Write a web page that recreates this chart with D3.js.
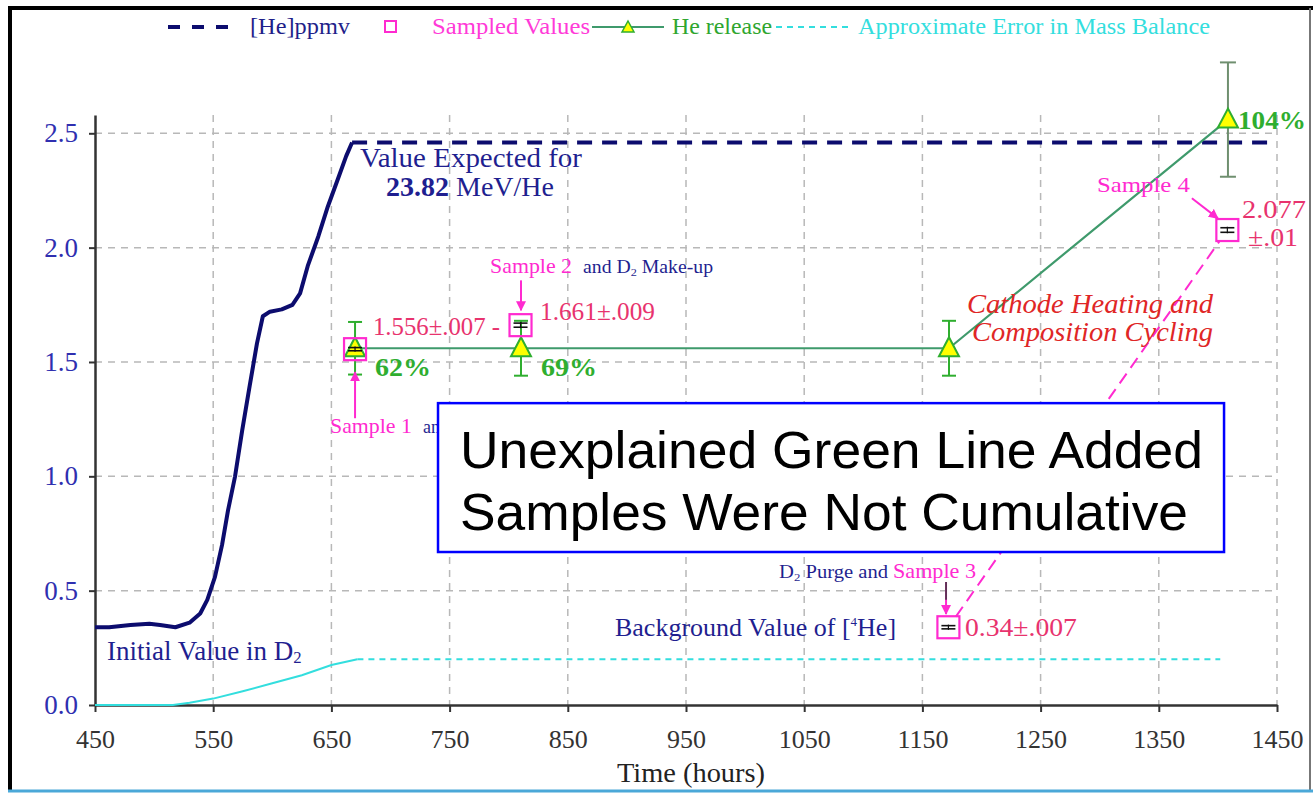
<!DOCTYPE html>
<html><head><meta charset="utf-8">
<script src="https://cdn.jsdelivr.net/npm/d3@7"></script>
<style>body{margin:0;background:#fff}svg{display:block}</style>
</head><body><svg id="c" width="1313" height="795"></svg>
<script>
// ---------- data ----------
const heTime = [450,462,480,496,505,518,530,539,545,551.5,557.5,562.5,568.5,574.5,581,587,592,598,608,617,623.5,630,639,647,655.5,662.5,667.5];
const heVal  = [0.34,0.34,0.35,0.355,0.35,0.34,0.36,0.40,0.46,0.56,0.70,0.85,1.00,1.20,1.40,1.58,1.70,1.72,1.73,1.75,1.80,1.92,2.05,2.18,2.30,2.40,2.46];
const expectedTime = [667.5,1450];
const expectedVal  = [2.46,2.46];
const errTime = [450,516,530,550,575,600,625,650,672];
const errVal  = [0,0,0.01,0.028,0.06,0.095,0.13,0.175,0.2];
const errFlatTime = [672,1402];
const errFlatVal  = [0.2,0.2];
const sampleTime = [670,810,1172,1408];
const sampleVal  = [1.556,1.661,0.34,2.077];
const sampleErr  = [0.007,0.009,0.007,0.01];
const releaseTime = [670,810.4,1172.5,1408.5];
const releaseVal  = [1.56,1.56,1.56,2.56];
const releaseErr  = [0.115,0.12,0.12,0.25];
const releasePct  = ["62%","69%","","104%"];
const xTicks = [450,550,650,750,850,950,1050,1150,1250,1350,1450];
const yTicks = [0,0.5,1.0,1.5,2.0,2.5];
const legendLabels = ["[He]ppmv","Sampled Values","He release","Approximate Error in Mass Balance"];

// ---------- setup ----------
const svg = d3.select('#c');
const x = d3.scaleLinear().domain([450,1450]).range([95,1277]);
const y = d3.scaleLinear().domain([0,2.58]).range([705,115]);
const SERIF = '"Liberation Serif","Times New Roman",serif';
const SANS = '"Liberation Sans",Arial,sans-serif';
const NAVY = '#0c0c6e', MAG = '#ff2ad0', PINK = '#e8336e', GRN = '#2fae2f', LINEG = '#3f9a6c', CYAN = '#33dede', BLUET = '#1f1f90';

function txt(g, px, py, s, o) {
  const t = g.append('text').attr('x',px).attr('y',py)
    .attr('font-family', o.fam || SERIF).attr('font-size', o.size || 24)
    .attr('fill', o.fill || '#000').attr('text-anchor', o.anchor || 'start');
  if (o.weight) t.attr('font-weight', o.weight);
  if (o.style) t.attr('font-style', o.style);
  if (o.len) t.attr('textLength', o.len).attr('lengthAdjust','spacingAndGlyphs');
  t.text(s);
  return t;
}
function d2(g, px, py, pre, post, o) {
  const t = txt(g, px, py, pre + 'D', o);
  t.append('tspan').attr('font-size', o.size*0.62).attr('dy',3).text('2');
  t.append('tspan').attr('dy',-3).text(post);
  return t;
}

// frame
svg.append('rect').attr('x',0).attr('y',0).attr('width',1313).attr('height',795).attr('fill','#fff');
svg.append('line').attr('x1',10).attr('x2',10).attr('y1',6).attr('y2',791).attr('stroke','#000').attr('stroke-width',4);
svg.append('line').attr('x1',8).attr('x2',1313).attr('y1',8).attr('y2',8).attr('stroke','#000').attr('stroke-width',4);
svg.append('line').attr('x1',1310).attr('x2',1310).attr('y1',8).attr('y2',791).attr('stroke','#777').attr('stroke-width',2);
svg.append('line').attr('x1',8).attr('x2',1313).attr('y1',791).attr('y2',791).attr('stroke','#4aa8d8').attr('stroke-width',3);

// grid
const grid = svg.append('g');
grid.selectAll('.vg').data(xTicks.slice(1)).join('line')
  .attr('x1',d=>x(d)).attr('x2',d=>x(d)).attr('y1',y(2.58)).attr('y2',y(0))
  .attr('stroke','#b8b8b8').attr('stroke-width',1.5).attr('stroke-dasharray','7,6');
grid.selectAll('.hg').data(yTicks.slice(1)).join('line')
  .attr('x1',x(450)).attr('x2',x(1450)).attr('y1',d=>y(d)).attr('y2',d=>y(d))
  .attr('stroke','#b8b8b8').attr('stroke-width',1.5).attr('stroke-dasharray','7,6');

// axes
const xAxis = svg.append('g').attr('transform',`translate(0,${y(0)})`)
  .call(d3.axisBottom(x).tickValues(xTicks).tickSize(7).tickSizeOuter(0).tickFormat(d3.format('d')));
xAxis.select('.domain').attr('stroke','#333').attr('stroke-width',2.5);
xAxis.selectAll('.tick line').attr('stroke','#333').attr('stroke-width',2);
xAxis.selectAll('.tick text').attr('font-family',SERIF).attr('font-size',26).attr('fill','#333').attr('dy','1.25em');
const yAxis = svg.append('g').attr('transform',`translate(${x(450)},0)`)
  .call(d3.axisLeft(y).tickValues(yTicks).tickSize(6).tickSizeOuter(0).tickFormat(d3.format('.1f')));
yAxis.select('.domain').attr('stroke','#333').attr('stroke-width',2.5);
yAxis.selectAll('.tick line').attr('stroke','#333').attr('stroke-width',2);
yAxis.selectAll('.tick text').attr('font-family',SERIF).attr('font-size',27).attr('fill','#2f2fb0').attr('dx','-0.3em');
txt(svg, 691, 782, 'Time (hours)', {size:27, fill:'#222', anchor:'middle', len:148});

// cyan error curve
const line = d3.line().x(d=>x(d[0])).y(d=>y(d[1]));
svg.append('path').attr('d', line(d3.zip(errTime, errVal))).attr('fill','none').attr('stroke',CYAN).attr('stroke-width',2);
svg.append('path').attr('d', line(d3.zip(errFlatTime, errFlatVal))).attr('fill','none').attr('stroke',CYAN).attr('stroke-width',2).attr('stroke-dasharray','6,5');

// navy He curve
svg.append('path').attr('d', line(d3.zip(heTime, heVal))).attr('fill','none').attr('stroke',NAVY).attr('stroke-width',4).attr('stroke-linejoin','round');
svg.append('path').attr('d', line(d3.zip(expectedTime, expectedVal))).attr('fill','none').attr('stroke',NAVY).attr('stroke-width',4).attr('stroke-dasharray','15,10');

// He release line
svg.append('path').attr('d', line(d3.zip(releaseTime, releaseVal))).attr('fill','none').attr('stroke',LINEG).attr('stroke-width',2.2);

// pink dashed link between samples 3 and 4
{
  const x1 = x(sampleTime[2]), y1 = y(sampleVal[2]), x2 = x(sampleTime[3]), y2 = y(sampleVal[3]);
  const L = Math.hypot(x2-x1, y2-y1), ux = (x2-x1)/L, uy = (y2-y1)/L, off = 13;
  svg.append('line').attr('x1',x1+ux*off).attr('y1',y1+uy*off).attr('x2',x2-ux*off).attr('y2',y2-uy*off)
    .attr('stroke',MAG).attr('stroke-width',2).attr('stroke-dasharray','12,7');
}

// release error bars & triangles
const rel = d3.range(releaseTime.length).map(i=>({t:releaseTime[i], v:releaseVal[i], e:releaseErr[i], p:releasePct[i], i}));
const rg = svg.append('g');
rel.forEach(d=>{
  const col = d.i===3 ? '#6f8f6f' : GRN, cw = d.i===3 ? 8 : 7;
  const cx = x(d.t);
  rg.append('line').attr('x1',cx).attr('x2',cx).attr('y1',y(d.v+d.e)).attr('y2',y(d.v-d.e)).attr('stroke',col).attr('stroke-width',2);
  [d.v+d.e, d.v-d.e].forEach(v=>rg.append('line').attr('x1',cx-cw).attr('x2',cx+cw).attr('y1',y(v)).attr('y2',y(v)).attr('stroke',col).attr('stroke-width',2));
});
rg.selectAll('.tri').data(rel).join('path')
  .attr('transform',d=>`translate(${x(d.t)},${y(d.v)})`)
  .attr('d','M0,-11L10,8L-10,8Z').attr('fill','#ffff00').attr('stroke',GRN).attr('stroke-width',2);

// sampled squares
const smp = d3.range(sampleTime.length).map(i=>({t:sampleTime[i], v:sampleVal[i], e:sampleErr[i]}));
const sg = svg.append('g');
smp.forEach(d=>{
  const cx = x(d.t), cy = y(d.v);
  sg.append('rect').attr('x',cx-11).attr('y',cy-11).attr('width',22).attr('height',22).attr('fill','none').attr('stroke',MAG).attr('stroke-width',2.2);
  [d.v+d.e, d.v-d.e].forEach(v=>sg.append('line').attr('x1',cx-7).attr('x2',cx+7).attr('y1',y(v)).attr('y2',y(v)).attr('stroke','#111').attr('stroke-width',1.6));
  sg.append('line').attr('x1',cx).attr('x2',cx).attr('y1',y(d.v+d.e)-1).attr('y2',y(d.v-d.e)+1).attr('stroke','#111').attr('stroke-width',1.2);
});

// arrows
const defs = svg.append('defs');
defs.append('marker').attr('id','ah').attr('viewBox','0 0 10 10').attr('refX',9).attr('refY',5)
  .attr('markerWidth',5).attr('markerHeight',5).attr('orient','auto')
  .append('path').attr('d','M0,0L10,5L0,10Z').attr('fill',MAG);
const arrows = [[810.4,1.857,810.4,1.726],[670,1.254,670,1.455],[1378,2.216,1400,2.128],[1170,0.538,1170,0.398]];
arrows.forEach(a=>svg.append('line').attr('x1',x(a[0])).attr('y1',y(a[1])).attr('x2',x(a[2])).attr('y2',y(a[3]))
  .attr('stroke',MAG).attr('stroke-width',2).attr('marker-end','url(#ah)'));
svg.append('line').attr('x1',x(1170)).attr('y1',y(0.538)).attr('x2',x(1170)).attr('y2',y(0.46)).attr('stroke','#333').attr('stroke-width',1.5);

// labels
const lg = svg.append('g');
rel.filter(d=>d.p).forEach(d=>{
  const lp = d.i===3 ? [x(d.t)+10, y(d.v)+9] : [x(d.t)+20, y(d.v)+28];
  txt(lg, lp[0], lp[1], d.p, {size:25, fill:GRN, weight:'bold', len: d.i===3?68:56});
});
txt(lg, x(685.2), y(1.617), '1.556±.007 -', {size:25, fill:PINK, len:127});
txt(lg, x(826.5), y(1.683), '1.661±.009', {size:25, fill:PINK, len:115});
txt(lg, x(1186), y(0.302), '0.34±.007', {size:25, fill:PINK, len:112});
txt(lg, x(1420.4), y(2.128), '2.077', {size:25, fill:PINK, len:64});
txt(lg, x(1425.5), y(2.006), '±.01', {size:25, fill:PINK, len:50});

txt(lg, x(674.2), y(2.351), 'Value Expected for', {size:28, fill:BLUET, len:222});
{
  const t = txt(lg, x(696.2), y(2.225), '', {size:28, fill:BLUET});
  t.append('tspan').attr('font-weight','bold').text('23.82');
  t.append('tspan').text(' MeV/He');
}
d2(lg, x(460.2), y(0.197), 'Initial Value in ', '', {size:27, fill:BLUET});
txt(lg, x(784.2), y(1.888), 'Sample 2', {size:21, fill:MAG, len:82});
d2(lg, x(784.2)+93, y(1.888), 'and ', ' Make-up', {size:18, fill:BLUET, len:130});
txt(lg, x(648.8), y(1.189), 'Sample 1', {size:21, fill:MAG, len:82});
// only the visible part of the note that the callout box covers
txt(lg, x(648.8)+93, y(1.189), 'an', {size:18, fill:BLUET});
txt(lg, x(1187.7), y(1.713), 'Cathode Heating and', {size:27, fill:'#e02626', style:'italic', len:246});
txt(lg, x(1192), y(1.591), 'Composition Cycling', {size:27, fill:'#e02626', style:'italic', len:241});
txt(lg, x(1297.7), y(2.242), 'Sample 4', {size:21, fill:MAG, len:93});
d2(lg, x(1028.7), y(0.555), '', ' Purge and', {size:18, fill:BLUET, len:109});
txt(lg, x(1028.7)+114, y(0.555), 'Sample 3', {size:21, fill:MAG, len:83});
{
  const t = txt(lg, x(889.9), y(0.302), 'Background Value of [', {size:26, fill:BLUET});
  t.append('tspan').attr('font-size',13).attr('dy',-10).text('4');
  t.append('tspan').attr('dy',10).text('He]');
}

// callout box
const bx0 = x(740.2), bx1 = x(1405.2), by0 = y(1.320), by1 = y(0.669);
svg.append('rect').attr('x',bx0).attr('y',by0).attr('width',bx1-bx0).attr('height',by1-by0)
  .attr('fill','#fff').attr('stroke','#0000ff').attr('stroke-width',2.5);
txt(svg, x(758.8), y(1.036), 'Unexplained Green Line Added', {fam:SANS, size:52, fill:'#000', len:743});
txt(svg, x(758.8), y(0.765), 'Samples Were Not Cumulative', {fam:SANS, size:52, fill:'#000', len:728});

// legend
const leg = svg.append('g');
leg.append('line').attr('x1',168).attr('x2',232).attr('y1',27).attr('y2',27).attr('stroke',NAVY).attr('stroke-width',4).attr('stroke-dasharray','12,12');
txt(leg, 250, 34, legendLabels[0], {size:24, fill:'#1f1f8a', len:100});
leg.append('rect').attr('x',385).attr('y',21).attr('width',11).attr('height',11).attr('fill','none').attr('stroke',MAG).attr('stroke-width',2);
txt(leg, 432, 34, legendLabels[1], {size:24, fill:'#ff3ad8', len:158});
leg.append('line').attr('x1',592).attr('x2',664).attr('y1',27).attr('y2',27).attr('stroke',LINEG).attr('stroke-width',2);
leg.append('path').attr('transform','translate(628,27)').attr('d','M0,-6L6,5L-6,5Z').attr('fill','#ffff00').attr('stroke',GRN).attr('stroke-width',1.5);
txt(leg, 672, 34, legendLabels[2], {size:24, fill:'#2fa62f', len:100});
leg.append('line').attr('x1',776).attr('x2',852).attr('y1',27).attr('y2',27).attr('stroke',CYAN).attr('stroke-width',2).attr('stroke-dasharray','6,5');
txt(leg, 858, 34, legendLabels[3], {size:24, fill:'#33dede', len:352});
</script></body></html>
